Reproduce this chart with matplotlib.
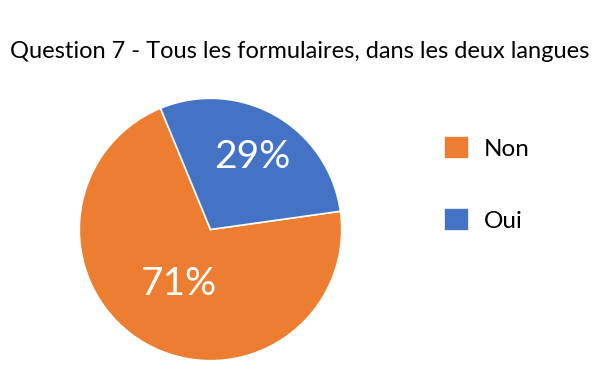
import numpy as np
import matplotlib.pyplot as plt

plt.rcParams['font.family'] = ['Lato', 'DejaVu Sans']

TITLE = 'Question 7 - Tous les formulaires, dans les deux langues'
labels = ['Non', 'Oui']
values = [71, 29]
colors = ['#ED7D31', '#4472C4']
# radial position of each percentage label (fraction of radius)
label_dist = [0.48, 0.64]

fig = plt.figure(figsize=(6, 3.86), dpi=100)
ax = fig.add_axes([78 / 600, 1 - 362 / 386, 265 / 600, 265 / 386])

wedges, texts, autotexts = ax.pie(values, colors=colors, startangle=8, counterclock=False,
                                  autopct='%1.0f%%', pctdistance=0.5,
                                  wedgeprops=dict(edgecolor='white', linewidth=1.2),
                                  textprops=dict(color='white', fontsize=28))
for w, t, d in zip(wedges, autotexts, label_dist):
    mid = np.deg2rad((w.theta1 + w.theta2) / 2)
    t.set_position((d * np.cos(mid), d * np.sin(mid)))
ax.set_xlim(-1.01, 1.01)
ax.set_ylim(-1.01, 1.01)
ax.set_aspect('equal')

fig.text(0.5, 1 - 51 / 386, TITLE, ha='center', va='center', fontsize=17, color='#000000')

fig.legend(wedges, labels, loc='center left', bbox_to_anchor=(422 / 600, 1 - 184 / 386),
           frameon=False, fontsize=17.5, handlelength=1.05, handleheight=1.05,
           labelspacing=2.0, handletextpad=0.6)

fig.savefig('out.png', dpi=100)
